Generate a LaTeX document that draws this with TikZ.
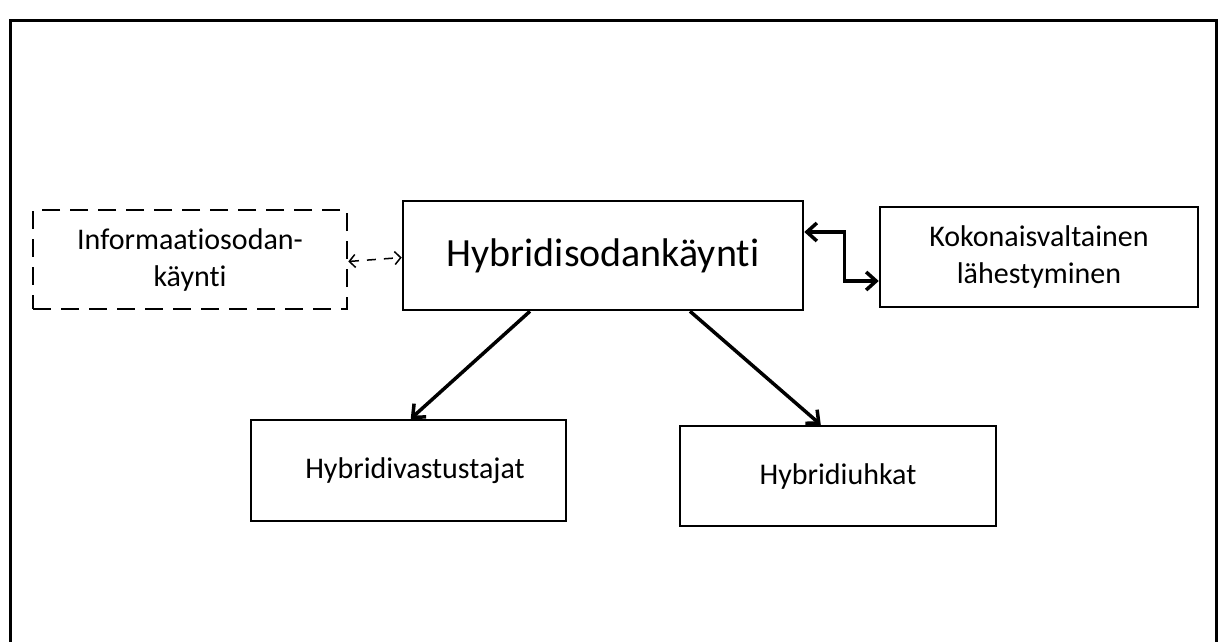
\documentclass[tikz,border=0pt]{standalone}
\usepackage{fontspec}
\setmainfont{Carlito}[Ligatures=NoCommon]
\usetikzlibrary{arrows.meta}
\begin{document}
\begin{tikzpicture}[x=1pt,y=-1pt,
  box/.style={draw,line width=2.5pt,rectangle,align=center,inner sep=0pt,font=\fontsize{30}{37}\selectfont},
  dbox/.style={box,dash pattern=on 18pt off 10pt},
  thickarrow/.style={line width=3.5pt,-{Straight Barb[length=10pt,width=18pt,line width=3.5pt]}},
  elbowarrow/.style={line width=3.5pt,{Straight Barb[length=10pt,width=18pt,line width=3.5pt]}-{Straight Barb[length=10pt,width=18pt,line width=3.5pt]}},
  thinarrow/.style={line width=1.5pt,dash pattern=on 9pt off 8pt,{Straight Barb[length=6pt,width=13pt,line width=1.5pt]}-{Straight Barb[length=6pt,width=13pt,line width=1.5pt]}}
]
\useasboundingbox (0,0) rectangle (1224,641);
\draw[line width=3pt] (10,660) -- (10,20) -- (1216,20) -- (1216,660);
\node[dbox,minimum width=314pt,minimum height=99pt] (d) at (190,259.5) {Informaatiosodan-\\käynti};
\node[box,minimum width=400pt,minimum height=109pt,font=\fontsize{40}{46}\selectfont] (c) at (603,255.5) {Hybridisodankäynti};
\node[box,minimum width=318pt,minimum height=100pt] (k) at (1039,257) {Kokonaisvaltainen\\lähestyminen};
\node[box,minimum width=315pt,minimum height=101pt] (v) at (408.5,470.5) {\hspace*{13pt}Hybridivastustajat};
\node[box,minimum width=316pt,minimum height=100pt] (u) at (838,476) {\raisebox{-4pt}{Hybridiuhkat}};
\draw[thinarrow] ([yshift=-2pt]d.east) -- ([yshift=-2pt]c.west);
\draw[elbowarrow] ([yshift=23.5pt]c.east) -- ++(40,0) |- ([yshift=-24pt]k.west);
\draw[thickarrow] ([xshift=-73pt]c.south) -- ([xshift=161pt]v.north west);
\draw[thickarrow] ([xshift=87pt]c.south) -- ([xshift=142pt]u.north west);
\end{tikzpicture}
\end{document}
